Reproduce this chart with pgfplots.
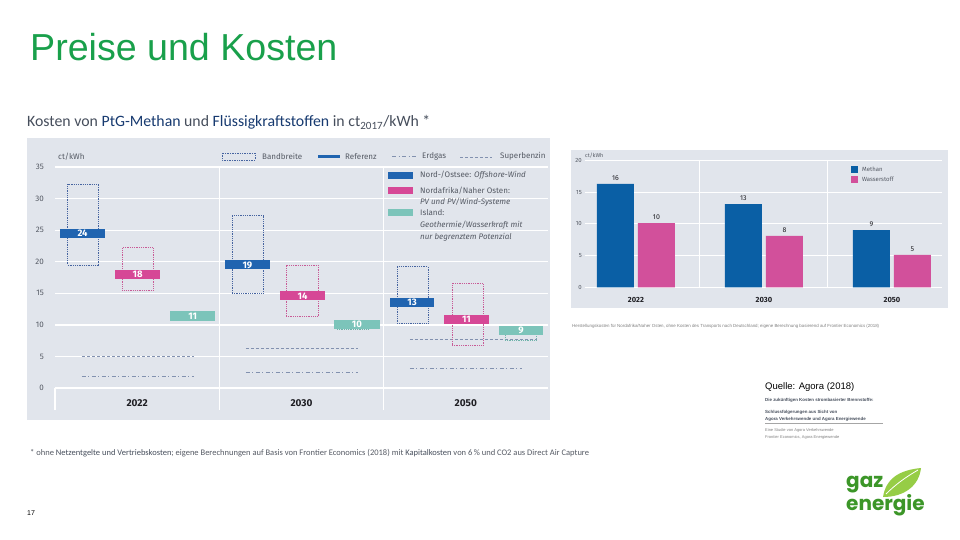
\documentclass[border=0pt]{standalone}
\usepackage{pgfplots}
\pgfplotsset{compat=1.18}
\usepackage{fontspec}
\setmainfont{Liberation Sans}
\newfontfamily\fira{Fira Sans}
\newfontfamily\carl{Carlito}
\newfontfamily\pop{Poppins}
\newcommand\fs[1]{\fontsize{#1}{#1}\selectfont}

\definecolor{titlegreen}{RGB}{25,160,75}
\definecolor{panel}{RGB}{225,229,236}
\definecolor{refblue}{RGB}{32,100,176}
\definecolor{refpink}{RGB}{214,72,150}
\definecolor{refteal}{RGB}{124,196,186}
\definecolor{boxblue}{RGB}{70,100,160}
\definecolor{boxpink}{RGB}{200,90,150}
\definecolor{boxteal}{RGB}{110,180,170}
\definecolor{linegrey}{RGB}{130,145,175}
\definecolor{txtgrey}{RGB}{85,90,100}
\definecolor{darktxt}{RGB}{30,30,35}
\definecolor{navy}{RGB}{23,58,112}
\definecolor{subtxt}{RGB}{70,78,92}
\definecolor{rblue}{RGB}{10,95,165}
\definecolor{rpink}{RGB}{210,80,155}
\definecolor{logogreen}{RGB}{60,150,40}
\definecolor{leafgreen}{RGB}{150,205,70}

\tikzset{erdgas/.style={linegrey, line width=1pt, dash pattern=on 4pt off 2.5pt on 1pt off 2.5pt},
         benzin/.style={linegrey, line width=0.8pt, dash pattern=on 3pt off 2pt}}

\begin{document}
\begin{tikzpicture}
\begin{scope}[x=1pt,y=1pt]
\fill[white] (0,0) rectangle (960,-540);

% slide title
\node[anchor=base west, inner sep=0, text=titlegreen, font=\fs{37.6}] at (30,-61) {Preise und Kosten};

% left chart title
\node[anchor=base west, inner sep=0, text=subtxt, font=\carl\fs{15.8}] at (27,-127)
  {Kosten von \textcolor{navy}{PtG-Methan} und \textcolor{navy}{Flüssigkraftstoffen} in ct\textsubscript{2017}/kWh *};

\fill[panel] (27,-138) rectangle (550,-420);

% top legend
\draw[boxblue, densely dotted, line width=0.7pt] (222,-153) rectangle (255,-160);
\node[anchor=west, inner sep=0, text=txtgrey, font=\fira\fs{8}] at (262,-156.5) {Bandbreite};
\fill[refblue] (318,-155) rectangle (340,-158.5);
\node[anchor=west, inner sep=0, text=txtgrey, font=\fira\fs{8}] at (345,-156.5) {Referenz};
\draw[erdgas] (392,-157) -- (418,-157);
\node[anchor=west, inner sep=0, text=txtgrey, font=\fira\fs{8}] at (422,-156.5) {Erdgas};
\draw[benzin] (460,-157) -- (492,-157);
\node[anchor=west, inner sep=0, text=txtgrey, font=\fira\fs{8}] at (500,-156.5) {Superbenzin};

\node[anchor=west, inner sep=0, text=txtgrey, font=\fira\fs{8}] at (58,-157) {ct/kWh};

% right chart panel
\fill[panel] (571,-150) rectangle (948,-308);
\node[anchor=west, inner sep=0, text=txtgrey, font=\fira\fs{5.5}] at (585,-156) {ct/kWh};
\end{scope}

\begin{axis}[at={(55pt,-418.9pt)}, anchor=south west, scale only axis,
  width=493pt, height=251.8pt,
  xmin=0, xmax=3, ymin=-4.9, ymax=35,
  ytick={0,5,...,35}, xtick={0.5,1.5,2.5}, xticklabels={2022,2030,2050},
  axis line style={draw=none}, tick style={draw=none}, major tick length=0pt,
  ymajorgrids, grid style={white, line width=1.3pt},
  clip=false,
  /pgf/number format/assume math mode=true,
  yticklabel style={font=\fira\fs{8}, text=txtgrey, anchor=east, inner sep=0pt, xshift=-11pt},
  xticklabel style={font=\fira\bfseries\fs{10}, text=darktxt, anchor=center, yshift=15.9pt},
]
% group separators
\draw[white, line width=1.3pt] (axis cs:1,-3.5) -- (axis cs:1,35);
\draw[white, line width=1.3pt] (axis cs:2,-3.5) -- (axis cs:2,35);
\draw[white, line width=1.3pt] (axis cs:0,-3.5) -- (axis cs:0,0);

% Erdgas
\addplot[erdgas] coordinates {(0.164,1.85) (0.846,1.85)};
\addplot[erdgas] coordinates {(1.162,2.4) (1.844,2.4)};
\addplot[erdgas] coordinates {(2.160,3.1) (2.842,3.1)};
% Superbenzin
\addplot[benzin] coordinates {(0.164,5.07) (0.846,5.07)};
\addplot[benzin] coordinates {(1.162,6.3) (1.844,6.3)};
\addplot[benzin] coordinates {(2.160,7.7) (2.933,7.7)};

% Bandbreite
\addplot[boxblue, densely dotted, line width=0.8pt] coordinates {(0.078,19.5) (0.265,19.5) (0.265,32.3) (0.078,32.3)} -- cycle;
\addplot[boxpink, densely dotted, line width=0.8pt] coordinates {(0.410,15.5) (0.598,15.5) (0.598,22.2) (0.410,22.2)} -- cycle;
\addplot[boxblue, densely dotted, line width=0.8pt] coordinates {(1.077,15.0) (1.266,15.0) (1.266,27.3) (1.077,27.3)} -- cycle;
\addplot[boxpink, densely dotted, line width=0.8pt] coordinates {(1.406,11.3) (1.600,11.3) (1.600,19.5) (1.406,19.5)} -- cycle;
\addplot[boxteal, densely dotted, line width=0.8pt] coordinates {(1.716,9.24) (1.905,9.24) (1.905,10.5) (1.716,10.5)} -- cycle;
\addplot[boxblue, densely dotted, line width=0.8pt] coordinates {(2.081,10.3) (2.270,10.3) (2.270,19.2) (2.081,19.2)} -- cycle;
\addplot[boxpink, densely dotted, line width=0.8pt] coordinates {(2.416,6.7) (2.604,6.7) (2.604,16.6) (2.416,16.6)} -- cycle;
\addplot[boxteal, densely dotted, line width=0.8pt] coordinates {(2.738,7.6) (2.927,7.6) (2.927,9.5) (2.738,9.5)} -- cycle;

% Referenz
\addplot[fill=refblue, draw=none] coordinates {(0.030,23.78) (0.305,23.78) (0.305,25.22) (0.030,25.22)} -- cycle;
\addplot[fill=refpink, draw=none] coordinates {(0.365,17.28) (0.640,17.28) (0.640,18.72) (0.365,18.72)} -- cycle;
\addplot[fill=refteal, draw=none] coordinates {(0.700,10.68) (0.975,10.68) (0.975,12.12) (0.700,12.12)} -- cycle;
\addplot[fill=refblue, draw=none] coordinates {(1.034,18.78) (1.308,18.78) (1.308,20.22) (1.034,20.22)} -- cycle;
\addplot[fill=refpink, draw=none] coordinates {(1.369,13.88) (1.643,13.88) (1.643,15.32) (1.369,15.32)} -- cycle;
\addplot[fill=refteal, draw=none] coordinates {(1.698,9.38) (1.975,9.38) (1.975,10.82) (1.698,10.82)} -- cycle;
\addplot[fill=refblue, draw=none] coordinates {(2.039,12.88) (2.306,12.88) (2.306,14.32) (2.039,14.32)} -- cycle;
\addplot[fill=refpink, draw=none] coordinates {(2.367,10.18) (2.641,10.18) (2.641,11.62) (2.367,11.62)} -- cycle;
\addplot[fill=refteal, draw=none] coordinates {(2.702,8.43) (2.970,8.43) (2.970,9.87) (2.702,9.87)} -- cycle;

\begin{scope}[every node/.style={text=white, font=\fira\bfseries\fs{9.5}, inner sep=0}]
\node at (axis cs:0.168,24.5) {24};
\node at (axis cs:0.503,18.0) {18};
\node at (axis cs:0.838,11.4) {11};
\node at (axis cs:1.171,19.5) {19};
\node at (axis cs:1.506,14.6) {14};
\node at (axis cs:1.837,10.1) {10};
\node at (axis cs:2.173,13.6) {13};
\node at (axis cs:2.504,10.9) {11};
\node at (axis cs:2.836,9.15) {9};
\end{scope}
\end{axis}

\begin{axis}[at={(585pt,-287.3pt)}, anchor=south west, scale only axis,
  width=357pt, height=127pt,
  xmin=-0.398, xmax=2.391, ymin=0, ymax=20, enlargelimits=false,
  ybar, bar width=37pt,
  ytick={0,5,...,20}, xtick={0,1,2}, xticklabels={2022,2030,2050},
  axis line style={draw=none}, tick style={draw=none}, major tick length=0pt,
  ymajorgrids, grid style={white, line width=1pt},
  clip=false,
  /pgf/number format/fixed, /pgf/number format/precision=0,
  /pgf/number format/assume math mode=true,
  yticklabel style={font=\fira\fs{6}, text=txtgrey, anchor=east, inner sep=0pt, xshift=-3pt},
  xticklabel style={font=\fira\bfseries\fs{7.5}, text=darktxt, anchor=center, yshift=-12.7pt},
  nodes near coords, nodes near coords style={font=\fira\fs{7}, text=darktxt},
]
\draw[white, line width=1pt] (axis cs:0.5,0) -- (axis cs:0.5,20);
\draw[white, line width=1pt] (axis cs:1.5,0) -- (axis cs:1.5,20);
\addplot[fill=rblue, draw=none, bar shift=-20.5pt] coordinates {(0,16.3) (1,13.1) (2,9.0)};
\addplot[fill=rpink, draw=none, bar shift=20.5pt] coordinates {(0,10.1) (1,8.1) (2,5.1)};
\end{axis}

\begin{scope}[x=1pt,y=1pt]
% right-hand legend inside left chart
\fill[refblue] (388,-172) rectangle (413,-179);
\fill[refpink] (388,-187) rectangle (413,-194);
\fill[refteal] (388,-209) rectangle (413,-216);
\begin{scope}[every node/.style={anchor=west, inner sep=0, text=txtgrey, font=\fira\fs{8}}]
\node at (420,-175.5) {Nord-/Ostsee: \textit{Offshore-Wind}};
\node at (420,-190.5) {Nordafrika/Naher Osten:};
\node at (420,-202) {\textit{PV und PV/Wind-Systeme}};
\node at (420,-213) {Island:};
\node at (420,-225) {\textit{Geothermie/Wasserkraft mit}};
\node at (420,-237) {\textit{nur begrenztem Potenzial}};
\end{scope}

% footnote
\node[anchor=base west, inner sep=0, text=txtgrey, font=\carl\fs{8.5}] at (30,-455.5)
  {* ohne \textcolor{subtxt}{Netzentgelte und Vertriebskosten}; eigene Berechnungen auf Basis von Frontier Economics (2018) mit \textcolor{subtxt}{Kapitalkosten} von 6\,\% und CO2 aus Direct Air Capture};

% right chart legend and caption
\fill[rblue] (851,-166) rectangle (858,-173);
\fill[rpink] (851,-176) rectangle (858,-183);
\node[anchor=west, inner sep=0, text=txtgrey, font=\fira\fs{6}] at (862,-169.5) {Methan};
\node[anchor=west, inner sep=0, text=txtgrey, font=\fira\fs{6}] at (862,-179.5) {Wasserstoff};

\node[anchor=base west, inner sep=0, text=gray, font=\fs{4.4}] at (572,-327)
  {Herstellungskosten für Nordafrika/Naher Osten, ohne Kosten des Transports nach Deutschland; eigene Berechnung basierend auf Frontier Economics (2018)};

% source
\node[anchor=base west, inner sep=0, text=black, font=\fs{9.5}] at (765,-389) {Quelle: Agora (2018)};
\node[anchor=base west, inner sep=0, text=subtxt, font=\bfseries\fs{4.4}] at (765,-401) {Die zukünftigen Kosten strombasierter Brennstoffe:};
\node[anchor=base west, inner sep=0, text=subtxt, font=\bfseries\fs{4.4}] at (765,-413) {Schlussfolgerungen aus Sicht von};
\node[anchor=base west, inner sep=0, text=subtxt, font=\bfseries\fs{4.4}] at (765,-420) {Agora Verkehrswende und Agora Energiewende};
\draw[gray!70, line width=0.4pt] (765,-423.5) -- (883,-423.5);
\node[anchor=base west, inner sep=0, text=gray, font=\fs{4}] at (765,-431) {Eine Studie von Agora Verkehrswende};
\node[anchor=base west, inner sep=0, text=gray, font=\fs{4}] at (765,-438) {Frontier Economics, Agora Energiewende};

% page number
\node[anchor=base west, inner sep=0, text=black, font=\fs{7}] at (27,-515) {17};

% logo
\fill[leafgreen] (883,-497) .. controls (886,-478) and (900,-470) .. (921,-468)
  .. controls (919,-486) and (904,-497) .. (883,-497) -- cycle;
\draw[white, line width=0.8pt] (886,-494) .. controls (896,-484) and (906,-477) .. (918,-470);
\node[anchor=north west, inner sep=0, text=logogreen, align=left,
      font=\pop\bfseries\fontsize{20}{15}\selectfont] at (846,-476) {gaz\\energie};
\end{scope}
\end{tikzpicture}
\end{document}
